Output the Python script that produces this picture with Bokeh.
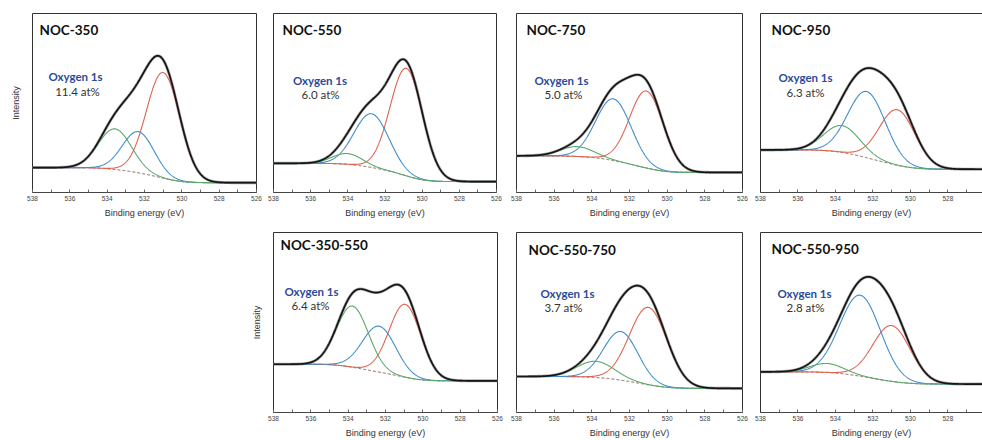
import math
import numpy as np
from bokeh.plotting import figure
from bokeh.layouts import column, row
from bokeh.models import Range1d, FixedTicker, LinearAxis, Label, Spacer
from bokeh.embed import file_html
from bokeh.resources import INLINE

# ---------------- data ----------------
panel_names = ["NOC-350", "NOC-550", "NOC-750", "NOC-950",
               "NOC-350-550", "NOC-550-750", "NOC-550-950"]
oxygen_at = ["11.4 at%", "6.0 at%", "5.0 at%", "6.3 at%",
             "6.4 at%", "3.7 at%", "2.8 at%"]

# background level (relative intensity) at the high-BE end and low-BE end
bg_high = [0.139, 0.163, 0.205, 0.238, 0.268, 0.200, 0.226]
bg_low = [0.055, 0.061, 0.112, 0.130, 0.176, 0.134, 0.158]

# fitted O 1s components: low-BE (red), middle (blue), high-BE (green)
red_center = [531.00, 530.85, 531.10, 530.70, 530.95, 531.00, 531.00]
red_height = [0.590, 0.600, 0.430, 0.310, 0.405, 0.430, 0.310]
red_fwhm = [2.10, 2.05, 2.10, 2.25, 2.00, 2.35, 2.35]

blue_center = [532.33, 532.72, 532.85, 532.33, 532.34, 532.46, 532.68]
blue_height = [0.230, 0.300, 0.345, 0.370, 0.255, 0.270, 0.450]
blue_fwhm = [2.00, 2.20, 2.20, 2.35, 2.10, 2.15, 2.55]

green_center = [533.58, 534.02, 534.77, 533.65, 533.77, 533.79, 534.45]
green_height = [0.227, 0.060, 0.055, 0.150, 0.340, 0.090, 0.050]
green_fwhm = [2.10, 1.90, 2.10, 2.25, 2.00, 2.35, 2.10]

x_ticks = [538, 536, 534, 532, 530, 528, 526]
x_minor = [537, 535, 533, 531, 529, 527]

# ---------------- layout / style ----------------
layout = [
    dict(w=262, l=32, r=6, t=13, b=27, x_end=526.0, ylab=True, open_right=False),
    dict(w=244, l=11, r=10, t=13, b=27, x_end=526.0, ylab=False, open_right=False),
    dict(w=244, l=10, r=8, t=13, b=27, x_end=526.0, ylab=False, open_right=False),
    dict(w=232, l=10, r=0, t=13, b=27, x_end=526.15, ylab=False, open_right=True),
    dict(w=262, l=29, r=9, t=12, b=27, x_end=526.0, ylab=True, open_right=False),
    dict(w=244, l=10, r=8, t=12, b=27, x_end=526.0, ylab=False, open_right=False),
    dict(w=232, l=10, r=0, t=12, b=27, x_end=526.15, ylab=False, open_right=True),
]
title_dx = [7, 9, 10, 11, 7, 12, 11]
title_dy = [17, 17, 17, 17, 13, 18, 17]
ox_dx = [43, 46.5, 45, 45, 38, 51, 44]
ox_dy = [63, 67, 67, 64, 59, 61, 61]
at_dx = [45, 47, 47, 45, 37, 47, 45]
at_dy = [78, 81, 81, 79, 73, 75, 75]

RED = "#dc6450"
BLUE = "#3f8dcc"
GREEN = "#5aa86c"
H = 220

erf = np.vectorize(math.erf)


def gauss(x, c, h, fwhm):
    s = fwhm / 2.3548
    return h * np.exp(-(x - c) ** 2 / (2 * s * s))


def cdf(x, c, fwhm):
    s = fwhm / 2.3548
    return 0.5 * (1 + erf((x - c) / (s * math.sqrt(2))))


def make_panel(i):
    L = layout[i]
    fw = L["w"] - L["l"] - L["r"]
    fh = H - L["t"] - L["b"]
    x0, x1 = 538.0, L["x_end"]
    p = figure(width=L["w"], height=H, output_backend="svg", toolbar_location=None,
               x_range=Range1d(x0, x1), y_range=Range1d(0, 1),
               min_border_left=L["l"], min_border_right=L["r"],
               min_border_top=L["t"], min_border_bottom=L["b"],
               y_axis_location=None)
    p.grid.visible = False
    p.background_fill_color = "white"
    p.border_fill_color = "white"
    if L["open_right"]:
        p.outline_line_color = None
    else:
        p.outline_line_color = "#333333"
        p.outline_line_width = 1

    ax = p.xaxis[0]
    ax.ticker = FixedTicker(ticks=x_ticks, minor_ticks=x_minor)
    ax.axis_line_color = "#444444"
    ax.major_tick_in = 3
    ax.major_tick_out = 0
    ax.minor_tick_in = 3
    ax.minor_tick_out = 0
    ax.major_tick_line_color = "#666666"
    ax.minor_tick_line_color = "#666666"
    ax.major_label_text_font = "Liberation Sans"
    ax.major_label_text_font_size = "6.5px"
    ax.major_label_text_color = "#444444"
    ax.major_label_standoff = 3
    ax.axis_label = "Binding energy (eV)"
    ax.axis_label_text_font = "Liberation Sans"
    ax.axis_label_text_font_size = "9px"
    ax.axis_label_text_font_style = "normal"
    ax.axis_label_text_color = "#333333"
    ax.axis_label_standoff = 4

    if L["ylab"]:
        ya = LinearAxis(ticker=FixedTicker(ticks=[]), axis_label="Intensity",
                        axis_line_color=None, major_tick_line_color=None,
                        minor_tick_line_color=None,
                        axis_label_text_font="Liberation Sans",
                        axis_label_text_font_size="9px",
                        axis_label_text_font_style="normal",
                        axis_label_text_color="#333333",
                        axis_label_standoff=12)
        p.add_layout(ya, "left")
    if L["open_right"]:
        la = LinearAxis(ticker=FixedTicker(ticks=[]), axis_line_color="#333333",
                        major_tick_line_color=None, minor_tick_line_color=None)
        p.add_layout(la, "left")
        ta = LinearAxis(ticker=FixedTicker(ticks=[]), axis_line_color="#333333",
                        major_tick_line_color=None, minor_tick_line_color=None)
        p.add_layout(ta, "above")

    # fitted components on a Shirley-type background; envelope = sum
    x = np.linspace(538, 526, 721)
    comps = [(red_center[i], red_height[i], red_fwhm[i]),
             (blue_center[i], blue_height[i], blue_fwhm[i]),
             (green_center[i], green_height[i], green_fwhm[i])]
    areas = [h * f for (c, h, f) in comps]
    tot = sum(areas)
    frac = sum(a * cdf(x, c, f) for a, (c, h, f) in zip(areas, comps)) / tot
    bg = bg_low[i] + (bg_high[i] - bg_low[i]) * frac
    peaks = [gauss(x, c, h, f) for (c, h, f) in comps]
    env = bg + sum(peaks)

    p.line(x, env, color="#8a8a8a", line_width=3.0, line_alpha=0.7)
    p.line(x, bg, color="#7a5a4a", line_width=1, line_dash="3 2")
    for pk, col in zip(peaks, [RED, BLUE, GREEN]):
        p.line(x, bg + pk, color=col, line_width=1.1)
    p.line(x, env, color="#151515", line_width=1.7)

    # texts
    ppx = (x0 - x1) / fw
    ppy = 1.0 / fh
    p.add_layout(Label(x=x0 - title_dx[i] * ppx, y=1 - title_dy[i] * ppy,
                       text=panel_names[i], text_font="Lato", text_font_style="bold",
                       text_font_size="13.5px", text_color="#111111",
                       text_align="left", text_baseline="middle"))
    p.add_layout(Label(x=x0 - ox_dx[i] * ppx, y=1 - ox_dy[i] * ppy,
                       text="Oxygen 1s", text_font="Lato", text_font_style="bold",
                       text_font_size="11.5px", text_color="#2a4a9a",
                       text_align="center", text_baseline="middle"))
    p.add_layout(Label(x=x0 - at_dx[i] * ppx, y=1 - at_dy[i] * ppy,
                       text=oxygen_at[i], text_font="Lato",
                       text_font_size="11.5px", text_color="#333333",
                       text_align="center", text_baseline="middle"))
    return p


figs = [make_panel(i) for i in range(7)]
top = row(figs[0], figs[1], figs[2], figs[3])
bottom = row(Spacer(width=244, height=H), figs[4], figs[5], figs[6])
page = column(top, bottom)

open("out.html", "w").write(file_html(page, INLINE))
